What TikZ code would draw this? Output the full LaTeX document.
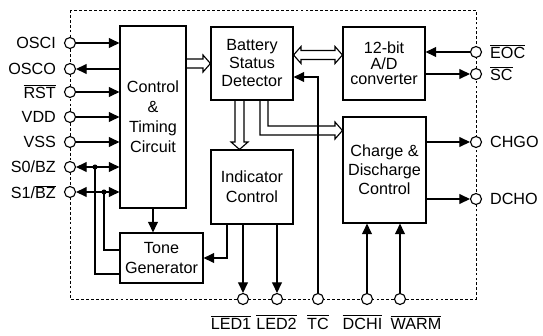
\documentclass[tikz,border=0pt]{standalone}
\usepackage{fontspec}
\setmainfont{Liberation Sans}
\usetikzlibrary{arrows.meta}

\begin{document}
\begin{tikzpicture}[x=0.025cm, y=-0.025cm, line width=0.8pt,
    font=\fontsize{11.5}{14.2}\selectfont, label distance=2pt,
    blk/.style={draw, align=center, inner sep=0pt},
    pin/.style={draw, circle, fill=white, inner sep=0pt, minimum size=0.275cm},
    sig/.style={-{Triangle[length=7.5pt,width=7pt]}},
    bisig/.style={{Triangle[length=7.5pt,width=7pt]}-{Triangle[length=7.5pt,width=7pt]}}]
    \useasboundingbox (0,0) rectangle (543,335);
    \draw[dash pattern=on 2pt off 1.5pt, line width=0.6pt] (70,10) rectangle (476,299);

    % blocks
    \node[blk, minimum width=1.65cm, minimum height=4.55cm] (ctl) at (153,117) {Control\\\&\\Timing\\Circuit};
    \node[blk, minimum width=2.075cm, minimum height=1.25cm] (tone) at (161.5,258) {Tone\\Generator};
    \node[blk, minimum width=2.05cm, minimum height=1.825cm, font=\fontsize{11.5}{12.8}\selectfont] (bsd) at (252,63.5) {Battery\\Status\\Detector};
    \node[blk, minimum width=2.05cm, minimum height=1.825cm, font=\fontsize{11.5}{11}\selectfont] (adc) at (384,63.5) {12-bit\\A/D\\converter};
    \node[blk, minimum width=2.05cm, minimum height=1.85cm] (ind) at (252,187) {Indicator\\Control};
    \node[blk, minimum width=2.075cm, minimum height=2.65cm, font=\fontsize{11.5}{13.5}\selectfont] (cdc) at (384.5,170) {Charge \&\\Discharge\\Control};

    % pins
    \node[pin, label=left:OSCI] (osci) at (70,43) {};
    \node[pin, label=left:OSCO] (osco) at (70,69) {};
    \node[pin, label=left:$\overline{\mbox{RST}}$] (rst) at (70,92) {};
    \node[pin, label=left:VDD] (vdd) at (70,117) {};
    \node[pin, label=left:VSS] (vss) at (70,142) {};
    \node[pin, label=left:S0/BZ] (szero) at (70,167) {};
    \node[pin, label=left:S1/$\overline{\mbox{BZ}}$] (sone) at (70,192) {};
    \node[pin, label=right:$\overline{\mbox{EOC}}$] (eoc) at (476,52) {};
    \node[pin, label=right:$\overline{\mbox{SC}}$] (sc) at (476,74) {};
    \node[pin, label=right:CHGO] (chgo) at (476,142) {};
    \node[pin, label=right:DCHO] (dcho) at (476,199) {};
    \node[pin] (ledone) at (243,299) {};
    \node[pin] (ledtwo) at (277,299) {};
    \node[pin] (tc) at (318,299) {};
    \node[pin] (dchi) at (367,299) {};
    \node[pin] (warm) at (400,299) {};
    \node[anchor=base] (ledonetxt) at (231,329) {$\overline{\mbox{LED1}}$};
    \node[anchor=base] (ledtwotxt) at (276.5,329) {$\overline{\mbox{LED2}}$};
    \node[anchor=base] (tctxt) at (318,329) {$\overline{\mbox{TC}}$};
    \node[anchor=base] (dchitxt) at (362.5,329) {$\overline{\mbox{DCHI}}$};
    \node[anchor=base] (warmtxt) at (416,329) {$\overline{\mbox{WARM}}$};

    % hollow buses
    \draw (ctl.east |- 0,59) -- (203,59) -- (203,55) -- (bsd.west) -- (203,72) -- (203,68) -- (ctl.east |- 0,68);
    \draw (301,50.5) -- (335,50.5) -- (335,46.5) -- (adc.west |- 0,55) -- (335,63.5) -- (335,59.5)
        -- (301,59.5) -- (301,63.5) -- (bsd.east |- 0,55) -- (301,46.5) -- cycle;
    \draw (235,100) -- (235,142) -- (231,142) -- (ind.north -| 239.5,0) -- (248,142) -- (244,142) -- (244,100);
    \draw (260,100) -- (260,135) -- (335,135) -- (335,139) -- (cdc.west |- 0,130.5) -- (335,122)
        -- (335,126) -- (268,126) -- (268,100);

    % signals
    \draw[sig] (osci) -- (osci -| ctl.west);
    \draw[sig] (ctl.west |- osco) -- (osco);
    \draw[sig] (rst) -- (rst -| ctl.west);
    \draw[sig] (vdd) -- (vdd -| ctl.west);
    \draw[sig] (vss) -- (vss -| ctl.west);
    \draw[bisig] (szero) -- (szero -| ctl.west);
    \draw[bisig] (sone) -- (sone -| ctl.west);
    \coordinate (jzero) at (95,167);
    \coordinate (jone) at (104,192);
    \fill (jzero) circle[radius=1.8pt];
    \fill (jone) circle[radius=1.8pt];
    \draw (jzero) |- ([yshift=-0.4cm]tone.west);
    \draw (jone) |- ([yshift=0.2cm]tone.west);
    \draw[sig] (ctl.south) -- (ctl.south |- tone.north);
    \draw[sig] ([xshift=-0.625cm]ind.south) |- (tone.east);
    \draw[sig] (ledone |- ind.south) -- (ledone);
    \draw[sig] (ledtwo |- ind.south) -- (ledtwo);
    \draw[sig] (tc) |- ([yshift=-0.3375cm]bsd.east);
    \draw[sig] (dchi) -- (dchi |- cdc.south);
    \draw[sig] (warm) -- (warm |- cdc.south);
    \draw[sig] (cdc.east |- chgo) -- (chgo);
    \draw[sig] (cdc.east |- dcho) -- (dcho);
    \draw[sig] (eoc) -- (eoc -| adc.east);
    \draw[sig] (adc.east |- sc) -- (sc);
\end{tikzpicture}
\end{document}
